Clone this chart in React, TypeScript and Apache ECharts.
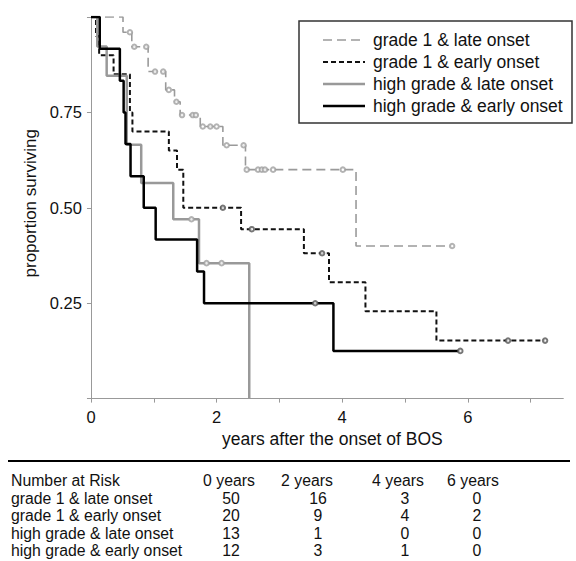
import React, { useEffect, useRef } from "react";
import * as echarts from "echarts";

// ---- Kaplan–Meier step data (time in years, proportion surviving) ----
const g1LateTimes = [0, 0.51, 0.65, 0.91, 1.19, 1.33, 1.42, 1.74, 2.1, 2.46, 4.22, 5.75];
const g1LateSurv = [1.0, 0.96, 0.922, 0.857, 0.809, 0.778, 0.743, 0.713, 0.664, 0.6, 0.4, 0.4];
const g1LateCensT = [0.62, 0.69, 0.88, 1.02, 1.15, 1.24, 1.36, 1.45, 1.62, 1.67, 1.78, 1.9, 2.0, 2.16, 2.43, 2.48, 2.66, 2.72, 2.77, 2.9, 4.01, 5.75];
const g1LateCensS = [0.96, 0.922, 0.922, 0.857, 0.857, 0.809, 0.778, 0.743, 0.743, 0.743, 0.713, 0.713, 0.713, 0.664, 0.664, 0.6, 0.6, 0.6, 0.6, 0.6, 0.6, 0.4];

const g1EarlyTimes = [0, 0.08, 0.13, 0.36, 0.62, 0.66, 1.24, 1.37, 1.47, 2.39, 3.39, 3.79, 4.37, 5.5, 7.23];
const g1EarlySurv = [1.0, 0.95, 0.9, 0.85, 0.75, 0.7, 0.65, 0.6, 0.5, 0.444, 0.381, 0.305, 0.229, 0.152, 0.152];
const g1EarlyCensT = [2.1, 2.56, 3.68, 6.64, 7.23];
const g1EarlyCensS = [0.5, 0.444, 0.381, 0.152, 0.152];

const hgLateTimes = [0, 0.1, 0.25, 0.57, 0.8, 1.31, 1.72, 2.52];
const hgLateSurv = [1.0, 0.923, 0.846, 0.665, 0.565, 0.47, 0.355, 0.0];
const hgLateCensT = [1.6, 1.84, 2.08];
const hgLateCensS = [0.47, 0.355, 0.355];

const hgEarlyTimes = [0, 0.14, 0.46, 0.52, 0.55, 0.63, 0.84, 1.03, 1.69, 1.8, 3.86, 5.88];
const hgEarlySurv = [1.0, 0.917, 0.833, 0.75, 0.667, 0.583, 0.5, 0.417, 0.333, 0.25, 0.125, 0.125];
const hgEarlyCensT = [3.57, 5.88];
const hgEarlyCensS = [0.25, 0.125];

const groupNames = [
  "grade 1 & late onset",
  "grade 1 & early onset",
  "high grade & late onset",
  "high grade & early onset",
];

// ---- axes ----
const xTickValues = [0, 1, 2, 3, 4, 5, 6, 7];
const xLabelValues = [0, 2, 4, 6];
const yLabelValues = [0.25, 0.5, 0.75];

// ---- number at risk table ----
const riskTitle = "Number at Risk";
const riskTimes = ["0 years", "2 years", "4 years", "6 years"];
const riskG1Late = [50, 16, 3, 0];
const riskG1Early = [20, 9, 4, 2];
const riskHgLate = [13, 1, 0, 0];
const riskHgEarly = [12, 3, 1, 0];

const FONT = "'Liberation Sans', Arial, Helvetica, sans-serif";

const styles = [
  { color: "#9a9a9a", width: 1.6, type: [9, 5] as number[], mark: "#a0a0a0" },
  { color: "#111111", width: 2, type: [5, 3] as number[], mark: "#555555" },
  { color: "#999999", width: 2.5, type: "solid" as any, mark: "#a0a0a0" },
  { color: "#000000", width: 2.5, type: "solid" as any, mark: "#555555" },
];

function zip(a: number[], b: number[]) {
  return a.map((v, i) => [v, b[i]]);
}

export default function App() {
  const ref = useRef<HTMLDivElement>(null);
  useEffect(() => {
    if (!ref.current) return;
    const chart = echarts.init(ref.current, undefined, { renderer: "svg" });

    const curves = [
      zip(g1LateTimes, g1LateSurv),
      zip(g1EarlyTimes, g1EarlySurv),
      zip(hgLateTimes, hgLateSurv),
      zip(hgEarlyTimes, hgEarlySurv),
    ];
    const censors = [
      zip(g1LateCensT, g1LateCensS),
      zip(g1EarlyCensT, g1EarlyCensS),
      zip(hgLateCensT, hgLateCensS),
      zip(hgEarlyCensT, hgEarlyCensS),
    ];

    const series: any[] = [];
    curves.forEach((d, i) => {
      series.push({
        name: groupNames[i],
        type: "line",
        step: "end",
        data: d,
        showSymbol: false,
        symbol: "none",
        lineStyle: { color: styles[i].color, width: styles[i].width, type: styles[i].type },
        z: 2 + i,
      });
    });
    censors.forEach((d, i) => {
      series.push({
        name: groupNames[i] + " censored",
        type: "scatter",
        data: d,
        symbol: "emptyCircle",
        symbolSize: 4.5,
        itemStyle: { color: styles[i].mark, borderColor: styles[i].mark, borderWidth: 0.9 },
        z: 10,
      });
    });

    // legend (drawn as graphics)
    const legendX = 299, legendY = 21, legendW = 273, legendH = 102;
    const legendRows = [40, 62, 84, 106];
    const graphics: any[] = [
      {
        type: "rect",
        shape: { x: legendX, y: legendY, width: legendW, height: legendH },
        style: { fill: "#fff", stroke: "#333", lineWidth: 1.5 },
        z: 20,
      },
    ];
    groupNames.forEach((n, i) => {
      const st = styles[i];
      graphics.push({
        type: "line",
        shape: { x1: 323, y1: legendRows[i], x2: 365, y2: legendRows[i] },
        style: {
          stroke: st.color,
          lineWidth: st.width,
          lineDash: Array.isArray(st.type) ? st.type : null,
        },
        z: 21,
      });
      graphics.push({
        type: "text",
        x: 373,
        y: legendRows[i],
        style: { text: n, font: `17.5px ${FONT}`, fill: "#111", verticalAlign: "middle" },
        z: 21,
      });
    });

    // separator line
    graphics.push({
      type: "line",
      shape: { x1: 8, y1: 461, x2: 570, y2: 461 },
      style: { stroke: "#000", lineWidth: 2 },
    });

    // table
    const rowY = [480, 498, 515.5, 533, 550.5];
    const headCx = [229, 307, 398, 473];
    const valCx = [231, 318, 405, 477];
    const riskRows = [riskG1Late, riskG1Early, riskHgLate, riskHgEarly];
    const tfont = `15.8px ${FONT}`;
    graphics.push({
      type: "text",
      x: 11,
      y: rowY[0],
      style: { text: riskTitle, font: tfont, fill: "#111", verticalAlign: "middle" },
    });
    riskTimes.forEach((t, j) => {
      graphics.push({
        type: "text",
        x: headCx[j],
        y: rowY[0],
        style: { text: t, font: tfont, fill: "#111", align: "center", verticalAlign: "middle" },
      });
    });
    groupNames.forEach((n, i) => {
      graphics.push({
        type: "text",
        x: 11,
        y: rowY[i + 1],
        style: { text: n, font: tfont, fill: "#111", verticalAlign: "middle" },
      });
      riskRows[i].forEach((v, j) => {
        graphics.push({
          type: "text",
          x: valCx[j],
          y: rowY[i + 1],
          style: { text: String(v), font: tfont, fill: "#111", align: "center", verticalAlign: "middle" },
        });
      });
    });

    chart.setOption({
      animation: false,
      backgroundColor: "#fff",
      textStyle: { fontFamily: FONT },
      grid: { left: 89.4, right: 12.7, top: 17, bottom: 162.4, containLabel: false },
      xAxis: {
        type: "value",
        min: -0.025,
        max: 7.52,
        offset: 3.5,
        name: "years after the onset of BOS",
        nameLocation: "middle",
        nameGap: 28,
        nameTextStyle: { fontSize: 17.5, color: "#111", fontFamily: FONT, padding: [0, 0, 0, 12] },
        axisLine: { show: true, lineStyle: { color: "#999", width: 1 } },
        axisTick: { show: true, length: 4, lineStyle: { color: "#999" }, customValues: xTickValues },
        axisLabel: { fontSize: 16.5, color: "#111", margin: 6, customValues: xLabelValues, fontFamily: FONT },
        splitLine: { show: false },
      },
      yAxis: {
        type: "value",
        min: 0,
        max: 1,
        interval: 0.25,
        name: "proportion surviving",
        nameLocation: "middle",
        nameGap: 48,
        nameTextStyle: { fontSize: 17, color: "#111", fontFamily: FONT, padding: [0, 0, 0, 9] },
        axisLine: { show: true, lineStyle: { color: "#999", width: 1 } },
        axisTick: { show: true, length: 4, lineStyle: { color: "#999" } },
        axisLabel: {
          fontSize: 16.5,
          color: "#111",
          margin: 7.5,
          fontFamily: FONT,
          formatter: (v: number) => (yLabelValues.some((y) => Math.abs(y - v) < 1e-9) ? v.toFixed(2) : ""),
        },
        splitLine: { show: false },
      },
      series,
      graphic: graphics,
    });

    return () => chart.dispose();
  }, []);

  return (
    <div
      ref={ref}
      style={{ position: "absolute", left: 0, top: 0, width: 576, height: 561, background: "#fff" }}
    />
  );
}
